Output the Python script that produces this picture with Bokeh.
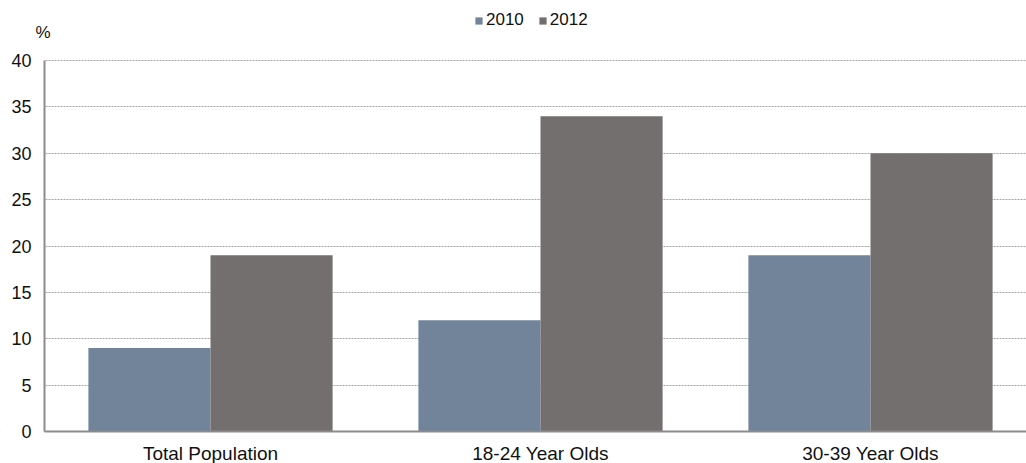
from bokeh.plotting import figure
from bokeh.models import (ColumnDataSource, Range1d, FixedTicker, Legend, LegendItem,
                          Label, BoxAnnotation)
from bokeh.transform import dodge
from bokeh.embed import file_html
from bokeh.resources import INLINE

categories = ["Total Population", "18-24 Year Olds", "30-39 Year Olds"]
series_names = ["2010", "2012"]
values_2010 = [9, 12, 19]
values_2012 = [19, 34, 30]
y_ticks = [0, 5, 10, 15, 20, 25, 30, 35, 40]

FONT = "Liberation Sans"
TEXT = "#111111"
C2010 = "#71849A"
C2012 = "#736F6F"

W, H = 1026, 463
BASE_PX = 431.0                  # canvas row of the zero line
TOP_PX = 60.0                    # canvas row of the 40 line
PX_PER_UNIT = (BASE_PX - TOP_PX) / 40.0
CAT_PX = 330.0                   # width of one category slot
X0 = -210.0 / CAT_PX             # x value at the left canvas edge
AXIS_X = X0 + 44.0 / CAT_PX      # where the value axis sits

idx = list(range(len(categories)))
src = ColumnDataSource(dict(x=idx, v2010=values_2010, v2012=values_2012))

p = figure(width=W, height=H, output_backend="svg", toolbar_location=None,
           x_range=Range1d(X0, X0 + W / CAT_PX),
           y_range=Range1d(-(H - BASE_PX) / PX_PER_UNIT, BASE_PX / PX_PER_UNIT),
           min_border=0, min_border_left=0, min_border_right=0, min_border_top=0,
           min_border_bottom=0)
p.outline_line_color = None
p.background_fill_color = "white"

bar_w = 0.37
r1 = p.vbar(x=dodge("x", -bar_w / 2, range=p.x_range), top="v2010", width=bar_w,
            bottom=0, source=src, fill_color=C2010, line_color=None)
r2 = p.vbar(x=dodge("x", bar_w / 2, range=p.x_range), top="v2012", width=bar_w,
            bottom=0, source=src, fill_color=C2012, line_color=None)

# dotted value grid
p.xgrid.visible = False
p.ygrid.ticker = FixedTicker(ticks=y_ticks)
p.ygrid.grid_line_color = "#A4A4A4"
p.ygrid.grid_line_dash = "2 1"
p.ygrid.grid_line_width = 1
# keep the grid out of the tick-label gutter
p.add_layout(BoxAnnotation(left=X0 - 1, right=AXIS_X, fill_color="white", fill_alpha=1,
                           line_color=None, level="underlay"))

# both axes sit inside the plot area at fixed positions
p.xaxis.ticker = FixedTicker(ticks=idx)
p.xaxis.major_label_overrides = {i: c for i, c in zip(idx, categories)}
p.xaxis.bounds = (AXIS_X, X0 + W / CAT_PX)
p.xaxis.fixed_location = 0
p.yaxis.ticker = FixedTicker(ticks=y_ticks)
p.yaxis.bounds = (0, 40)
p.yaxis.fixed_location = AXIS_X

for ax in (p.xaxis[0], p.yaxis[0]):
    ax.axis_line_color = "#8C8C8C"
    ax.axis_line_width = 2
    ax.major_tick_line_color = None
    ax.minor_tick_line_color = None
    ax.major_tick_out = 0
    ax.major_tick_in = 0
    ax.major_label_text_font = FONT
    ax.major_label_text_color = TEXT
p.xaxis.major_label_text_font_size = "19px"
p.yaxis.major_label_text_font_size = "18px"
p.xaxis.major_label_standoff = 11
p.yaxis.major_label_standoff = 13

# unit label above the value axis
p.add_layout(Label(x=X0 + 35 / CAT_PX, y=(BASE_PX - 31.5) / PX_PER_UNIT, text="%",
                   text_font=FONT, text_font_size="17px", text_color=TEXT,
                   text_baseline="middle", text_align="left"))

legend = Legend(items=[LegendItem(label=series_names[0], renderers=[r1]),
                       LegendItem(label=series_names[1], renderers=[r2])],
                orientation="horizontal", location=(474, H - 30),
                glyph_width=9, glyph_height=9, label_standoff=3, spacing=14,
                label_height=18, padding=0, margin=0, border_line_color=None,
                background_fill_alpha=0,
                label_text_font=FONT, label_text_font_size="17px", label_text_color=TEXT)
p.add_layout(legend, "center")

open("out.html", "w").write(file_html(p, INLINE))
